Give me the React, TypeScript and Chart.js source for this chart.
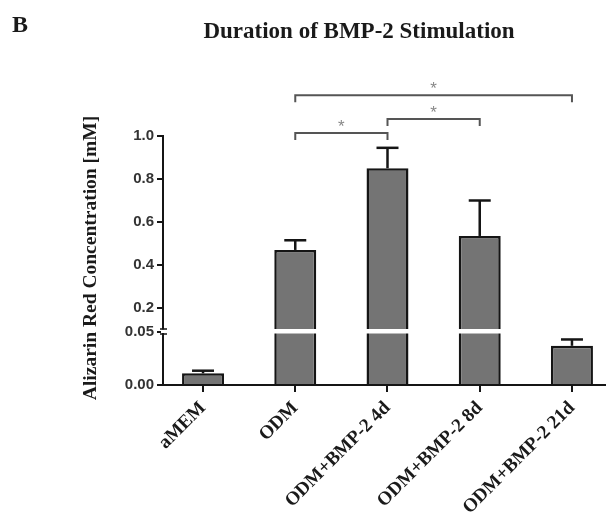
import React, { useEffect, useRef } from "react";
import { Chart, registerables } from "chart.js";

Chart.register(...registerables);

const CATEGORIES = ["aMEM", "ODM", "ODM+BMP-2 4d", "ODM+BMP-2 8d", "ODM+BMP-2 21d"];
const MEANS = [0.011, 0.47, 0.85, 0.535, 0.037];
const ERRORS = [0.0025, 0.045, 0.095, 0.165, 0.006];
const UPPER_TICKS = [0.2, 0.4, 0.6, 0.8, 1.0];
const LOWER_TICKS = [0.0, 0.05];
const UPPER_RANGE = [0.093, 1.0];
const LOWER_RANGE = [0, 0.051];
const X_RANGE = [-0.434, 4.369];
const BRACKET_FROM = [1, 2, 1];
const BRACKET_TO = [2, 3, 4];
const BRACKET_Y = [1.014, 1.079, 1.19];
const BRACKET_LABELS = ["*", "*", "*"];
const TITLE = "Duration of BMP-2 Stimulation";
const PANEL = "B";
const Y_TITLE = "Alizarin Red Concentration [mM]";

const AXIS_COLOR = "#151515";
const BAR_FILL = "#747474";
const BW = 2.5;

const overlay = {
  id: "overlay",
  afterDatasetsDraw(chart: any) {
    const { ctx, chartArea, scales } = chart;
    const up = scales.yUp;
    const low = scales.yLow;
    const x = scales.x;
    const brk = low.top;
    ctx.save();
    // break stripe through the bars
    ctx.fillStyle = "#ffffff";
    ctx.fillRect(chartArea.left + 1.5, brk - 2, chartArea.right - chartArea.left, 4.5);
    // error bars
    ctx.strokeStyle = AXIS_COLOR;
    ctx.lineWidth = 2.5;
    MEANS.forEach((m, i) => {
      const s = m > LOWER_RANGE[1] ? up : low;
      const px = x.getPixelForValue(i);
      const y0 = s.getPixelForValue(m);
      const y1 = s.getPixelForValue(m + ERRORS[i]);
      ctx.beginPath();
      ctx.moveTo(px, y0);
      ctx.lineTo(px, y1);
      ctx.stroke();
      ctx.beginPath();
      ctx.moveTo(px - 11, y1);
      ctx.lineTo(px + 11, y1);
      ctx.stroke();
    });
    ctx.restore();
  },
  afterDraw(chart: any) {
    const { ctx, chartArea, scales } = chart;
    const up = scales.yUp;
    const low = scales.yLow;
    const x = scales.x;
    const brk = low.top;
    const ax = chartArea.left;
    ctx.save();
    // y tick marks
    ctx.strokeStyle = AXIS_COLOR;
    ctx.lineWidth = 2;
    ctx.beginPath();
    UPPER_TICKS.forEach((v) => {
      const py = Math.round(up.getPixelForValue(v));
      ctx.moveTo(ax - 6, py);
      ctx.lineTo(ax, py);
    });
    LOWER_TICKS.forEach((v) => {
      const py = Math.round(low.getPixelForValue(v));
      ctx.moveTo(ax - 6, py);
      ctx.lineTo(ax, py);
    });
    ctx.stroke();
    // axis break symbol
    ctx.fillStyle = "#ffffff";
    ctx.fillRect(ax - 2, brk - 1.5, 4, 3.5);
    ctx.lineWidth = 1.5;
    ctx.beginPath();
    ctx.moveTo(ax - 3, brk - 2);
    ctx.lineTo(ax + 4, brk - 2);
    ctx.moveTo(ax - 3, brk + 3);
    ctx.lineTo(ax + 4, brk + 3);
    ctx.stroke();

    // significance brackets
    ctx.strokeStyle = "#555555";
    ctx.lineWidth = 2;
    ctx.fillStyle = "#888888";
    ctx.font = '17px "Liberation Sans"';
    ctx.textAlign = "center";
    ctx.textBaseline = "alphabetic";
    BRACKET_FROM.forEach((f, i) => {
      const xa = x.getPixelForValue(f);
      const xb = x.getPixelForValue(BRACKET_TO[i]);
      const yy = up.getPixelForValue(BRACKET_Y[i]);
      ctx.beginPath();
      ctx.moveTo(xa, yy + 7);
      ctx.lineTo(xa, yy);
      ctx.lineTo(xb, yy);
      ctx.lineTo(xb, yy + 7);
      ctx.stroke();
      ctx.fillText(BRACKET_LABELS[i], (xa + xb) / 2, yy - 1);
    });

    // texts
    ctx.fillStyle = "#1a1a1a";
    ctx.font = 'bold 24px "Liberation Serif"';
    ctx.textAlign = "left";
    ctx.fillText(PANEL, 12, 32);
    ctx.font = 'bold 23px "Liberation Serif"';
    ctx.textAlign = "center";
    ctx.fillText(TITLE, 359, 38);
    ctx.translate(91, 258);
    ctx.rotate(-Math.PI / 2);
    ctx.font = 'bold 19.5px "Liberation Serif"';
    ctx.textBaseline = "middle";
    ctx.fillText(Y_TITLE, 0, 0);
    ctx.restore();
  },
};

const yCommon = {
  type: "linear" as const,
  position: "left" as const,
  stack: "y",
  afterFit: (s: any) => {
    s.width = 163;
  },
  grid: {
    display: true,
    drawOnChartArea: false,
    drawTicks: true,
    offset: false,
    tickLength: 6,
    color: AXIS_COLOR,
    lineWidth: 2,
  },
  border: { display: true, color: AXIS_COLOR, width: 2 },
};

const yTickFont = { family: '"Liberation Sans"', size: 15, weight: "bold" as const };

export default function App() {
  const ref = useRef<HTMLCanvasElement>(null);
  useEffect(() => {
    const lowerData = CATEGORIES.map((_, i) => ({ x: i, y: Math.min(MEANS[i], LOWER_RANGE[1]) }));
    const upperData = CATEGORIES.map((_, i) => ({
      x: i,
      y: MEANS[i] > LOWER_RANGE[1] ? MEANS[i] : null,
    }));
    const barCommon = {
      backgroundColor: BAR_FILL,
      borderColor: AXIS_COLOR,
      borderSkipped: "start" as const,
      barPercentage: 0.455,
      categoryPercentage: 1,
      grouped: false,
    };
    const chart = new Chart(ref.current!, {
      type: "bar",
      data: {
        datasets: [
          {
            ...barCommon,
            data: lowerData as any,
            yAxisID: "yLow",
            borderWidth: (c: any) =>
              MEANS[c.dataIndex] > LOWER_RANGE[1]
                ? { top: 0, left: BW, right: BW, bottom: 0 }
                : BW,
          },
          {
            ...barCommon,
            data: upperData as any,
            yAxisID: "yUp",
            borderWidth: BW,
          },
        ],
      },
      options: {
        responsive: false,
        animation: false,
        devicePixelRatio: 1,
        layout: { padding: { top: 136, left: 0, right: 0, bottom: 0 } },
        plugins: { legend: { display: false }, tooltip: { enabled: false } },
        scales: {
          x: {
            type: "linear",
            offset: false,
            min: X_RANGE[0],
            max: X_RANGE[1],
            afterBuildTicks: (s: any) => {
              s.ticks = CATEGORIES.map((_, i) => ({ value: i }));
            },
            afterFit: (s: any) => {
              s.height = 128;
            },
            grid: {
              display: true,
              drawOnChartArea: false,
              drawTicks: true,
              offset: false,
              tickLength: 7,
              color: AXIS_COLOR,
              lineWidth: 2,
            },
            border: { display: true, color: AXIS_COLOR, width: 2 },
            ticks: {
              autoSkip: false,
              minRotation: 45,
              maxRotation: 45,
              padding: 5,
              color: "#1a1a1a",
              font: { family: '"Liberation Serif"', size: 19, weight: "bold" },
              callback: (_v: any, i: number) => CATEGORIES[i],
            },
          },
          yLow: {
            ...yCommon,
            weight: 0,
            stackWeight: 54,
            min: LOWER_RANGE[0],
            max: LOWER_RANGE[1],
            afterBuildTicks: (s: any) => {
              s.ticks = LOWER_TICKS.map((v) => ({ value: v }));
            },
            ticks: {
              color: "#333333",
              padding: 3,
              font: yTickFont,
              callback: (v: any) => Number(v).toFixed(2),
            },
          },
          yUp: {
            ...yCommon,
            weight: 1,
            stackWeight: 195,
            min: UPPER_RANGE[0],
            max: UPPER_RANGE[1],
            afterBuildTicks: (s: any) => {
              s.ticks = UPPER_TICKS.map((v) => ({ value: v }));
            },
            ticks: {
              color: "#333333",
              padding: 3,
              font: yTickFont,
              callback: (v: any) => Number(v).toFixed(1),
            },
          },
        },
      } as any,
      plugins: [overlay],
    });
    return () => chart.destroy();
  }, []);
  return (
    <div style={{ position: "absolute", left: 0, top: 0, width: 606, height: 513, background: "#fff" }}>
      <canvas ref={ref} width={606} height={513} style={{ display: "block" }} />
    </div>
  );
}
